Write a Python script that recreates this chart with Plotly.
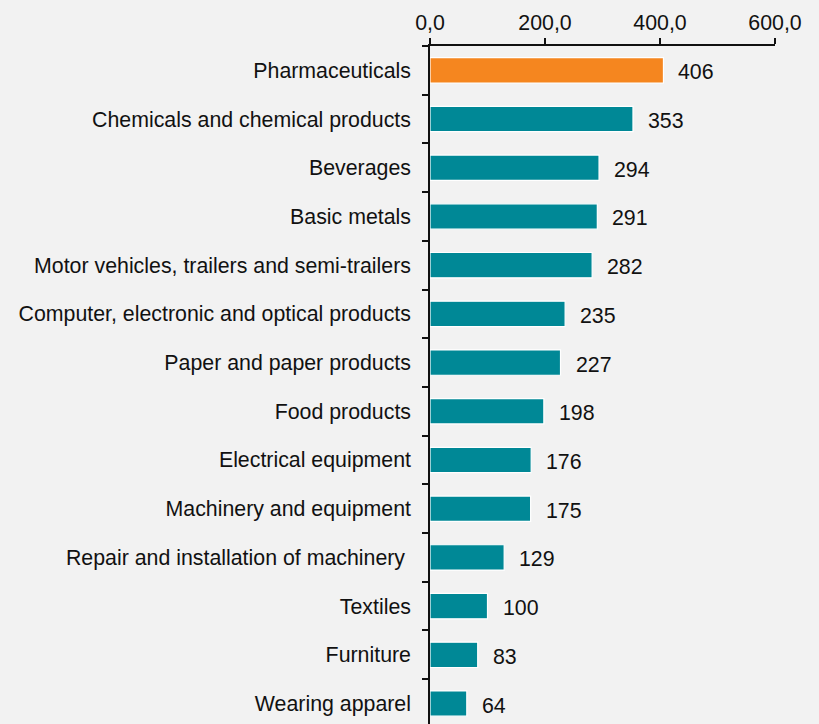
import plotly.graph_objects as go

# Industry categories (top to bottom) and their values
categories = [
    "Pharmaceuticals",
    "Chemicals and chemical products",
    "Beverages",
    "Basic metals",
    "Motor vehicles, trailers and semi-trailers",
    "Computer, electronic and optical products",
    "Paper and paper products",
    "Food products",
    "Electrical equipment",
    "Machinery and equipment",
    "Repair and installation of machinery ",
    "Textiles",
    "Furniture",
    "Wearing apparel",
]
values = [406, 353, 294, 291, 282, 235, 227, 198, 176, 175, 129, 100, 83, 64]

x_tickvals = [0, 200, 400, 600]

ORANGE = "#F5861F"
TEAL = "#008896"
BG = "#F2F2F2"
FONT = "Liberation Sans, Arial, sans-serif"
FS = 21.33

bar_colors = [ORANGE] + [TEAL] * (len(values) - 1)

fig = go.Figure(
    go.Bar(
        x=values,
        y=categories,
        orientation="h",
        marker=dict(color=bar_colors, line=dict(color="white", width=1.2)),
        hoverinfo="skip",
    )
)

# value labels placed just to the right of each bar
for cat, val in zip(categories, values):
    fig.add_annotation(
        x=val, y=cat, text=str(val), showarrow=False,
        xanchor="left", yanchor="middle", xshift=13, yshift=-2,
        font=dict(size=FS, color="#111111", family=FONT),
    )

fig.update_layout(
    width=819,
    height=724,
    margin=dict(l=430, r=44, t=46, b=0),
    paper_bgcolor=BG,
    plot_bgcolor=BG,
    separators=", ",
    bargap=0.48,
    showlegend=False,
    font=dict(family=FONT, size=FS, color="#111111"),
)

fig.update_xaxes(
    side="top",
    range=[0, 600],
    tickvals=x_tickvals,
    tickformat=".1f",
    showgrid=False,
    zeroline=False,
    showline=True,
    linecolor="#111111",
    linewidth=1.5,
    ticks="outside",
    ticklen=6,
    tickwidth=1.5,
    tickcolor="#111111",
    tickfont=dict(size=FS, family=FONT, color="#111111"),
    fixedrange=True,
)

fig.update_yaxes(
    type="category",
    categoryorder="array",
    categoryarray=categories,
    range=[13.42, -0.5],
    showgrid=False,
    zeroline=False,
    showline=True,
    linecolor="#111111",
    linewidth=1.5,
    ticks="outside",
    tickson="boundaries",
    ticklen=6,
    tickwidth=1.5,
    tickcolor="#111111",
    tickfont=dict(size=FS, family=FONT, color="#111111"),
    ticklabelstandoff=13,
    fixedrange=True,
)

fig.write_html("out.html", config={"displayModeBar": False})
